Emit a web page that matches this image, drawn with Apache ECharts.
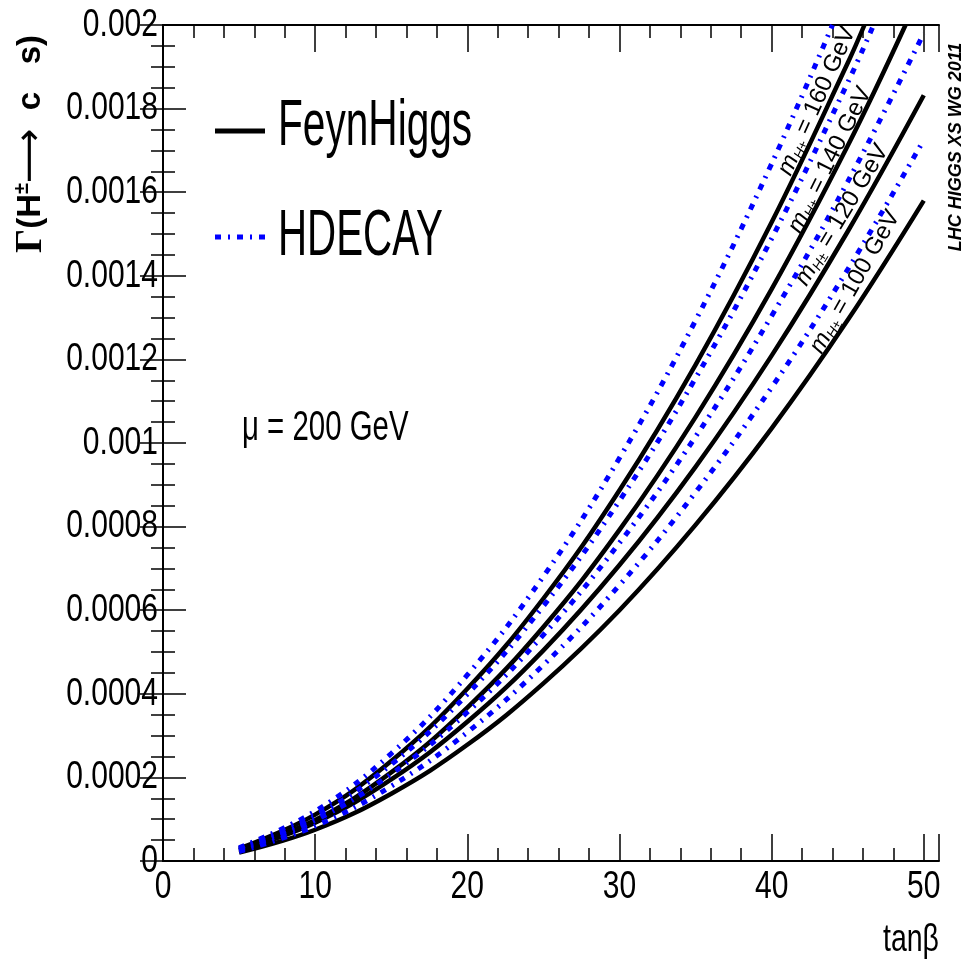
<!DOCTYPE html>
<html>
<head>
<meta charset="utf-8">
<script src="https://cdn.jsdelivr.net/npm/echarts@6/dist/echarts.min.js"></script>
<style>
  html, body { margin: 0; padding: 0; background: #fff; }
  #main { width: 962px; height: 961px; }
</style>
</head>
<body>
<div id="main"></div>
<script>
var tanb = [5, 10, 15, 20, 25, 30, 35, 40, 45, 50];
// curves that leave the frame at the top end at the crossing point
var tanbFh140 = [5, 10, 15, 20, 25, 30, 35, 40, 45, 48.8];
var tanbFh160 = [5, 10, 15, 20, 25, 30, 35, 40, 45, 46.1];
var tanbHd140 = [5, 10, 15, 20, 25, 30, 35, 40, 45, 46.7];
var tanbHd160 = [5, 10, 15, 20, 25, 30, 35, 40, 44];

// FeynHiggs, Γ(H± -> c s) in GeV
var fh100 = [0.0000201, 0.0000748, 0.000161, 0.000278, 0.000425, 0.00060, 0.000804, 0.001035, 0.001294, 0.00158];
var fh120 = [0.0000252, 0.0000916, 0.000195, 0.000333, 0.000504, 0.000708, 0.000943, 0.001209, 0.001506, 0.001832];
var fh140 = [0.0000263, 0.0000982, 0.000212, 0.000367, 0.000560, 0.000792, 0.001062, 0.001368, 0.001711, 0.002];
var fh160 = [0.0000300, 0.000111, 0.000239, 0.000412, 0.000628, 0.000887, 0.001187, 0.001528, 0.001909, 0.002];

// HDECAY
var hd100 = [0.0000227, 0.0000837, 0.000179, 0.000308, 0.000469, 0.00066, 0.000882, 0.001133, 0.001415, 0.001725];
var hd120 = [0.0000266, 0.0000974, 0.000208, 0.000356, 0.000541, 0.000761, 0.001015, 0.001304, 0.001625, 0.00198];
var hd140 = [0.0000286, 0.000107, 0.000231, 0.000399, 0.000610, 0.000862, 0.001155, 0.001489, 0.001862, 0.002];
var hd160 = [0.0000317, 0.000119, 0.000257, 0.000445, 0.000681, 0.000964, 0.001293, 0.001668, 0.002];

// tick labels
var xTicks = [0, 10, 20, 30, 40, 50];
var xTickLabels = ['0', '10', '20', '30', '40', '50'];
var yTicks = [0, 0.0002, 0.0004, 0.0006, 0.0008, 0.001, 0.0012, 0.0014, 0.0016, 0.0018, 0.002];
var yTickLabels = ['0', '0.0002', '0.0004', '0.0006', '0.0008', '0.001', '0.0012', '0.0014', '0.0016', '0.0018', '0.002'];

var sans = '"Liberation Sans", Arial, sans-serif';
var blueDash = [6, 7, 2, 7];

function pairs(xs, ys) {
  return ys.map(function (v, i) { return [xs[i], v]; });
}

function curve(name, xs, ys, hdecay) {
  return {
    name: name,
    type: 'line',
    xAxisIndex: 0,
    yAxisIndex: 0,
    data: pairs(xs, ys),
    smooth: 0.4,
    symbol: 'none',
    silent: true,
    lineStyle: hdecay
      ? { color: '#0000ff', width: 5, type: blueDash }
      : { color: '#000000', width: 4.5 }
  };
}

function xAx(pos, major) {
  return {
    type: 'value', position: pos, min: 0, max: 51,
    interval: major ? 10 : 2,
    axisLine: { show: major, lineStyle: { color: '#000', width: 2 } },
    axisTick: { show: true, inside: true, length: major ? 27 : 13, lineStyle: { color: '#000', width: 1.5 } },
    axisLabel: { show: false },
    splitLine: { show: false }
  };
}

function yAx(pos) {
  return {
    type: 'value', position: pos, min: 0, max: 0.002, interval: 0.0002,
    axisLine: { show: true, lineStyle: { color: '#000', width: 2 } },
    axisTick: { show: true, inside: true, length: 23, lineStyle: { color: '#000', width: 1.5 } },
    minorTick: { show: true, splitNumber: 4, length: 12, lineStyle: { color: '#000', width: 1.5 } },
    axisLabel: { show: false },
    splitLine: { show: false }
  };
}

// narrow ROOT-like text: Liberation Sans squeezed horizontally
function narrowText(str, x, y, size, sx, align, valign, sy) {
  return {
    type: 'text', x: x, y: y, scaleX: sx, scaleY: sy || 1,
    style: { text: str, font: size + 'px ' + sans, fill: '#000', align: align, verticalAlign: valign }
  };
}

function massLabel(mass, x, y, deg) {
  return {
    type: 'text', x: x, y: y, rotation: deg * Math.PI / 180, z: 100,
    style: {
      text: '{m|m}{s|H±} = ' + mass + ' GeV',
      align: 'center', verticalAlign: 'middle',
      font: '24px ' + sans, fill: '#000',
      rich: {
        m: { fontSize: 24, fontStyle: 'italic', fontFamily: sans },
        s: { fontSize: 14, fontStyle: 'italic', fontFamily: sans, verticalAlign: 'bottom', padding: [12, 0, 0, 0] }
      }
    }
  };
}

var chart = echarts.init(document.getElementById('main'), null, { renderer: 'canvas' });

chart.setOption({
  backgroundColor: '#fff',
  animation: false,
  grid: { left: 163, right: 23, top: 25, bottom: 100, show: false },
  xAxis: [xAx('bottom', true), xAx('bottom', false), xAx('top', true), xAx('top', false)],
  yAxis: [yAx('left'), yAx('right')],
  series: [
    curve('FeynHiggs', tanb, fh100, false),
    curve('FeynHiggs', tanb, fh120, false),
    curve('FeynHiggs', tanbFh140, fh140, false),
    curve('FeynHiggs', tanbFh160, fh160, false),
    curve('HDECAY', tanb, hd100, true),
    curve('HDECAY', tanb, hd120, true),
    curve('HDECAY', tanbHd140, hd140, true),
    curve('HDECAY', tanbHd160, hd160, true)
  ]
});

var elements = [];

// tick labels placed through the axis scales
var x0 = chart.convertToPixel({ xAxisIndex: 0 }, 0);
var y0 = chart.convertToPixel({ yAxisIndex: 0 }, 0);
xTicks.forEach(function (v, i) {
  elements.push(narrowText(xTickLabels[i], chart.convertToPixel({ xAxisIndex: 0 }, v), y0 + 26, 39, 0.77, 'center', 'middle'));
});
yTicks.forEach(function (v, i) {
  elements.push(narrowText(yTickLabels[i], x0 - 5, chart.convertToPixel({ yAxisIndex: 0 }, v), 39, 0.77, 'right', 'middle'));
});

elements.push(
  // legend
  { type: 'line', shape: { x1: 215, y1: 131, x2: 265, y2: 131 }, style: { stroke: '#000', lineWidth: 5 } },
  narrowText('FeynHiggs', 278, 127, 65, 0.625, 'left', 'middle'),
  { type: 'line', shape: { x1: 215, y1: 237, x2: 265, y2: 237 }, style: { stroke: '#0000ff', lineWidth: 5, lineDash: blueDash } },
  narrowText('HDECAY', 278, 237, 65, 0.62, 'left', 'middle'),
  // parameter
  narrowText('μ = 200 GeV', 242, 428, 42, 0.70, 'left', 'middle'),
  // curve labels
  massLabel(160, 817, 101, 66),
  massLabel(140, 830, 160, 63.5),
  massLabel(120, 842, 215, 59),
  massLabel(100, 855, 282, 60.5),
  // working group tag
  { type: 'text', x: 956, y: 147, rotation: Math.PI / 2,
    style: { text: 'LHC HIGGS XS WG 2011', font: 'italic bold 18px ' + sans, fill: '#000', align: 'center', verticalAlign: 'middle' } },
  // axis titles
  narrowText('tanβ', 939, 940, 39, 0.73, 'right', 'middle'),
  { type: 'text', x: 31, y: 144, rotation: Math.PI / 2,
    style: {
      text: '{g|Γ}{t|(H}{p|±}{a|⟶}{t|  c   s)}',
      align: 'center', verticalAlign: 'middle', fill: '#000',
      rich: {
        g: { fontSize: 38, fontWeight: 'bold', fontFamily: '"Liberation Serif", serif' },
        t: { fontSize: 33, fontWeight: 'bold', fontFamily: sans },
        a: { fontSize: 38, fontFamily: '"DejaVu Sans", sans-serif' },
        p: { fontSize: 20, fontWeight: 'bold', fontFamily: sans, verticalAlign: 'top', padding: [0, 0, 16, 0] }
      }
    } }
);

chart.setOption({ graphic: elements });
</script>
</body>
</html>
